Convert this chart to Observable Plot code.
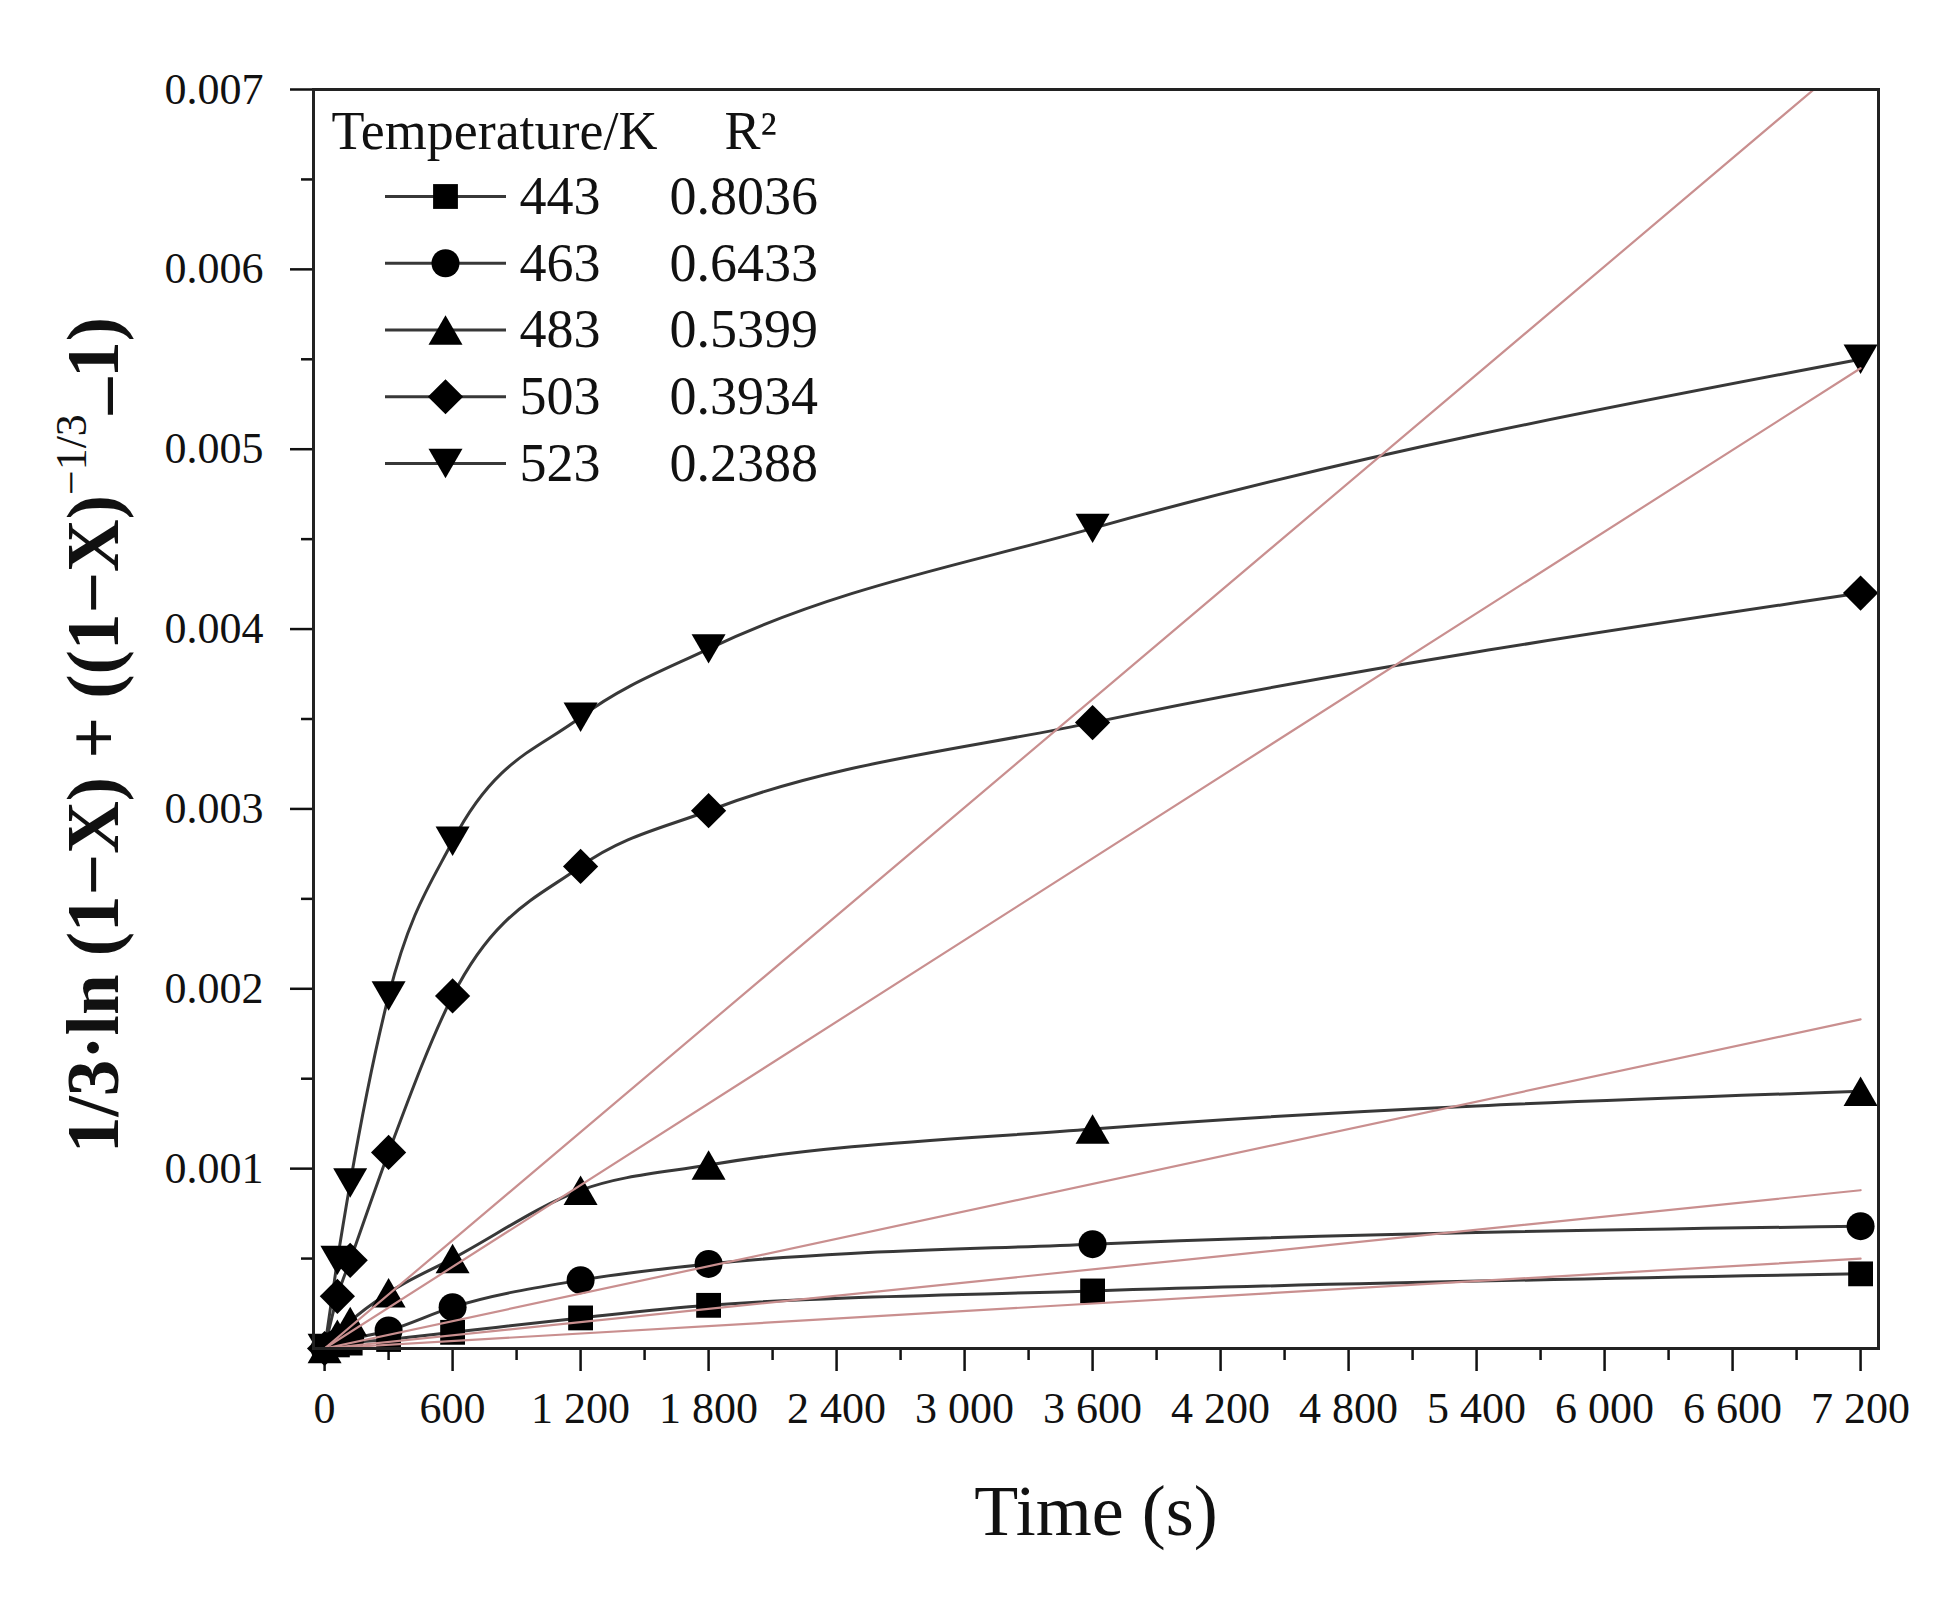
<!DOCTYPE html>
<html>
<head>
<meta charset="utf-8">
<script src="https://cdn.jsdelivr.net/npm/d3@7"></script>
<script src="https://cdn.jsdelivr.net/npm/@observablehq/plot@0.6"></script>
<style>
  body { margin: 0; background: #fff; }
  #wrap { position: relative; width: 1951px; height: 1602px; font-family: "Liberation Serif", "Times New Roman", serif; color: #111; }
  #legend { position: absolute; left: 313px; top: 89px; }
  #ylabel {
    position: absolute; left: 90px; top: 735px;
    transform: translate(-50%, -50%) rotate(-90deg);
    white-space: nowrap; font-size: 73px; font-weight: bold; line-height: 1;
  }
  #ylabel sup { font-size: 0.6em; font-weight: normal; vertical-align: 0.75em; }
  #ylabel .low { position: relative; top: 0.12em; }
</style>
</head>
<body>
<div id="wrap">
  <div id="chart"></div>
  <div id="legend"></div>
  <div id="ylabel">1/3·ln (1−X) + ((1−X)<sup>−1/3</sup><span class="low">–</span>1)</div>
</div>
<script>
const serif = '"Liberation Serif", "Times New Roman", serif';

// data
const temps = [443, 463, 483, 503, 523];
const r2 = ["0.8036", "0.6433", "0.5399", "0.3934", "0.2388"];
const times = [0, 60, 120, 300, 600, 1200, 1800, 3600, 7200];
const v443 = [0, 0.00002, 0.00003, 0.00005, 0.00009, 0.00017, 0.00024, 0.00032, 0.000415];
const v463 = [0, 0.00003, 0.00005, 0.00010, 0.00023, 0.00038, 0.00047, 0.00058, 0.00068];
const v483 = [0, 0.00008, 0.00015, 0.00031, 0.00050, 0.00088, 0.00102, 0.00122, 0.00143];
const v503 = [0, 0.00029, 0.00049, 0.00109, 0.00196, 0.00268, 0.00299, 0.00348, 0.00420];
const v523 = [0, 0.00049, 0.00092, 0.00196, 0.00282, 0.00351, 0.00389, 0.00456, 0.00550];
// linear fits through the origin, value reached at 7200 s
const fitAt7200 = [0.00050, 0.00088, 0.00183, 0.00545, 0.00722];

const xTicks = [0, 600, 1200, 1800, 2400, 3000, 3600, 4200, 4800, 5400, 6000, 6600, 7200];
const xTickLabels = ["0", "600", "1 200", "1 800", "2 400", "3 000", "3 600", "4 200", "4 800", "5 400", "6 000", "6 600", "7 200"];
const yTicks = [0.001, 0.002, 0.003, 0.004, 0.005, 0.006, 0.007];
const yTickLabels = ["0.001", "0.002", "0.003", "0.004", "0.005", "0.006", "0.007"];

const series = [v443, v463, v483, v503, v523];
const rows = temps.flatMap((T, k) => times.map((t, i) => ({T, t, v: series[k][i]})));
const fits = temps.flatMap((T, k) => [{T, t: 0, v: 0}, {T, t: 7200, v: fitAt7200[k]}]);

const xLab = new Map(xTicks.map((d, i) => [d, xTickLabels[i]]));
const yLab = new Map(yTicks.map((d, i) => [d, yTickLabels[i]]));

// marker shapes
const square = {draw(c, s) { const a = Math.sqrt(s) / 2; c.moveTo(-a, -a); c.lineTo(a, -a); c.lineTo(a, a); c.lineTo(-a, a); c.closePath(); }};
const diamond = {draw(c, s) { const a = Math.sqrt(s) * 0.71; c.moveTo(0, -a); c.lineTo(a, 0); c.lineTo(0, a); c.lineTo(-a, 0); c.closePath(); }};
const triUp = {draw(c, s) { const w = Math.sqrt(s) * 0.685, h = Math.sqrt(s) * 0.593; c.moveTo(0, -h); c.lineTo(w, h); c.lineTo(-w, h); c.closePath(); }};
const triDown = {draw(c, s) { const w = Math.sqrt(s) * 0.685, h = Math.sqrt(s) * 0.593; c.moveTo(0, h); c.lineTo(w, -h); c.lineTo(-w, -h); c.closePath(); }};
const symbols = [square, "circle", triUp, diamond, triDown];

const lineColor = "#383838";
const fitColor = "#c98f8f";

const chart = Plot.plot({
  width: 1951,
  height: 1602,
  marginLeft: 313,
  marginRight: 73,
  marginTop: 89,
  marginBottom: 254,
  style: {fontFamily: serif, fontSize: "44px", color: "#111", background: "white"},
  x: {domain: [-52, 7284]},
  y: {domain: [0, 0.007]},
  marks: [
    Plot.axisX(d3.range(300, 7200, 600), {tickSize: 12, tickFormat: () => "", strokeWidth: 2.5, label: null}),
    Plot.axisX(xTicks, {tickSize: 23, tickPadding: 20, tickFormat: d => xLab.get(d), strokeWidth: 2.5, label: null}),
    Plot.axisY(d3.range(0.0005, 0.007, 0.001), {tickSize: 12, tickFormat: () => "", strokeWidth: 2.5, label: null}),
    Plot.axisY(yTicks, {tickSize: 23, tickPadding: 27, tickFormat: d => yLab.get(d), strokeWidth: 2.5, label: null}),
    Plot.line(rows, {x: "t", y: "v", z: "T", curve: "monotone-x", stroke: lineColor, strokeWidth: 3}),
    ...temps.map((T, k) =>
      Plot.dot(rows.filter(d => d.T === T), {x: "t", y: "v", symbol: symbols[k], r: 14, fill: "#000", stroke: "none"})
    ),
    Plot.line(fits, {x: "t", y: "v", z: "T", stroke: fitColor, strokeWidth: 2.2, clip: true}),
    Plot.frame({stroke: "#222", strokeWidth: 3}),
    Plot.text(["Time (s)"], {frameAnchor: "bottom", dy: 186, fontSize: 72, fill: "#111"})
  ]
});
d3.select("#chart").append(() => chart);

// legend drawn in its own pixel space
const rowY = temps.map((T, i) => 107 + i * 66.75);
const legend = Plot.plot({
  width: 560,
  height: 420,
  margin: 0,
  style: {fontFamily: serif, fontSize: "54px", color: "#111", background: "transparent"},
  x: {domain: [0, 560], range: [0, 560], axis: null},
  y: {domain: [0, 420], range: [0, 420], axis: null},
  marks: [
    Plot.text(["Temperature/K"], {x: 18, y: 42, textAnchor: "start", fill: "#111"}),
    Plot.text(["R²"], {x: 411, y: 42, textAnchor: "start", fill: "#111"}),
    Plot.ruleY(temps, {y: (d, i) => rowY[i], x1: 72, x2: 193, stroke: lineColor, strokeWidth: 3}),
    ...temps.map((T, k) => Plot.dot([T], {x: 132, y: rowY[k], symbol: symbols[k], r: 14, fill: "#000", stroke: "none"})),
    Plot.text(temps, {x: 206, y: (d, i) => rowY[i], text: d => String(d), textAnchor: "start", fill: "#111"}),
    Plot.text(r2, {x: 356, y: (d, i) => rowY[i], text: d => d, textAnchor: "start", fill: "#111"})
  ]
});
d3.select("#legend").append(() => legend);
</script>
</body>
</html>
